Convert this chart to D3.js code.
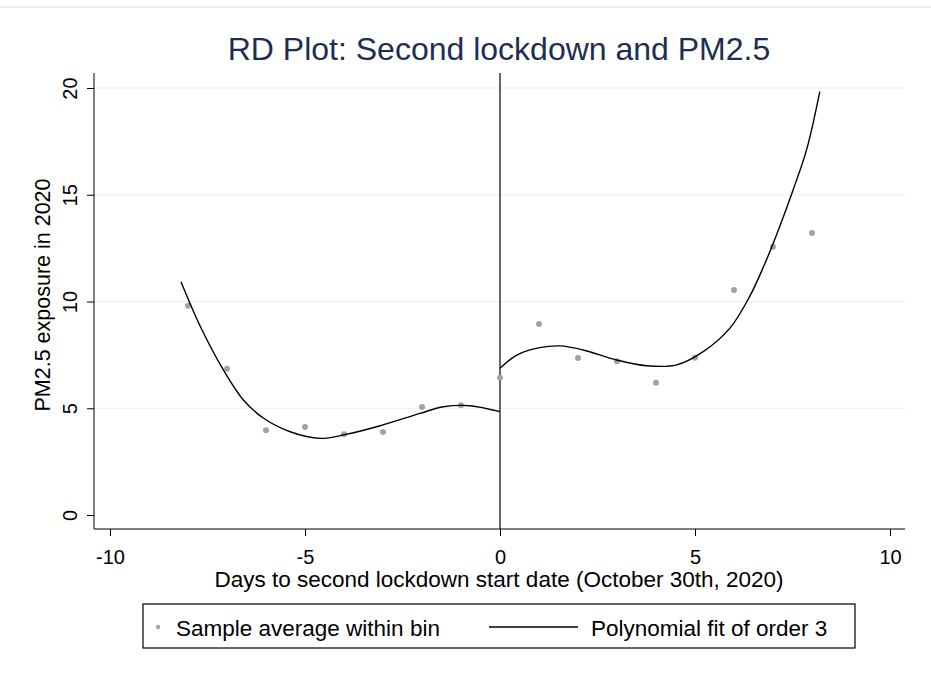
<!DOCTYPE html>
<html>
<head>
<meta charset="utf-8">
<script src="https://cdn.jsdelivr.net/npm/d3@7"></script>
<style>
  body { margin: 0; background: #fff; }
  text { font-family: "Liberation Sans", Arial, sans-serif; }
</style>
</head>
<body>
<svg id="chart" width="931" height="677"></svg>
<script>
// bin averages
var binDays = [-8, -7, -6, -5, -4, -3, -2, -1, 0, 1, 2, 3, 4, 5, 6, 7, 8];
var binMeans = [9.8, 6.85, 3.97, 4.12, 3.78, 3.89, 5.06, 5.14, 6.43, 8.95, 7.35, 7.2, 6.2, 7.37, 10.54, 12.57, 13.21];

// fitted curve, left of cutoff
var leftFitX = [-8.18, -7.68, -7.09, -6.58, -6.06, -5.38, -4.61, -4.01, -3.07, -2.05, -1.45, -0.77, 0];
var leftFitY = [10.93, 8.82, 6.79, 5.39, 4.53, 3.90, 3.59, 3.75, 4.18, 4.76, 5.07, 5.12, 4.84];
// fitted curve, right of cutoff
var rightFitX = [0, 0.43, 1.02, 1.54, 2.13, 2.99, 3.76, 4.53, 5.21, 5.89, 6.40, 6.83, 7.17, 7.51, 7.86, 8.2];
var rightFitY = [6.87, 7.49, 7.84, 7.92, 7.73, 7.26, 6.99, 7.03, 7.65, 8.74, 10.23, 11.94, 13.5, 15.2, 17.1, 19.83];

var xTicks = [-10, -5, 0, 5, 10];
var yTicks = [0, 5, 10, 15, 20];

var svg = d3.select("#chart");

var x = d3.scaleLinear().domain([-10, 10]).range([110, 890]);
var y = d3.scaleLinear().domain([0, 20]).range([515, 88]);

var plotLeft = 94, plotRight = 905, plotTop = 73, plotBottom = 529;

// stata-style minus is a plain hyphen
var fmt = function(d){ return String(d) };

// faint top border line
svg.append("line")
    .attr("x1", 0).attr("x2", 931)
    .attr("y1", 7).attr("y2", 7)
    .style("stroke", "#e6eef0")
    .style("stroke-width", 1.5);

// gridlines
svg.selectAll(".grid")
    .data(yTicks.filter(function(d){ return d > 0 }))
    .enter()
    .append("line")
    .attr("x1", plotLeft).attr("x2", plotRight)
    .attr("y1", function(d){ return y(d) })
    .attr("y2", function(d){ return y(d) })
    .style("stroke", "#eaf2f3")
    .style("stroke-width", 1.2);

// y axis
var yAxis = svg.append("g")
    .attr("transform", "translate(" + plotLeft + ",0)")
    .call(d3.axisLeft(y).tickValues(yTicks).tickFormat(fmt).tickSize(7).tickSizeOuter(0));
yAxis.select(".domain").remove();
yAxis.append("line")
    .attr("x1", 0).attr("x2", 0)
    .attr("y1", plotTop).attr("y2", plotBottom)
    .style("stroke", "#000");
yAxis.selectAll(".tick line").style("stroke", "#000");
yAxis.selectAll(".tick text")
    .attr("x", null).attr("dy", null)
    .attr("transform", "translate(-17,0) rotate(-90)")
    .attr("text-anchor", "middle")
    .style("font-size", "20px")
    .style("fill", "#000");

// x axis
var xAxis = svg.append("g")
    .attr("transform", "translate(0," + plotBottom + ")")
    .call(d3.axisBottom(x).tickValues(xTicks).tickFormat(fmt).tickSize(7).tickSizeOuter(0));
xAxis.select(".domain").remove();
xAxis.append("line")
    .attr("x1", plotLeft).attr("x2", plotRight)
    .attr("y1", 0).attr("y2", 0)
    .style("stroke", "#000");
xAxis.selectAll(".tick line").style("stroke", "#000");
xAxis.selectAll(".tick text")
    .attr("y", 35).attr("dy", null)
    .style("font-size", "20px")
    .style("fill", "#000");

// cutoff line
svg.append("line")
    .attr("x1", x(0)).attr("x2", x(0))
    .attr("y1", plotTop).attr("y2", plotBottom)
    .style("stroke", "#000")
    .style("stroke-width", 1.2);

// bin points
svg.selectAll(".bin")
    .data(binDays)
    .enter()
    .append("circle")
    .attr("cx", function(d){ return x(d) })
    .attr("cy", function(d,i){ return y(binMeans[i]) })
    .attr("r", 3)
    .style("fill", "#a3a3a3");

// fitted lines
var fitLine = d3.line()
    .x(function(d){ return x(d[0]) })
    .y(function(d){ return y(d[1]) })
    .curve(d3.curveCatmullRom);

svg.append("path")
    .datum(d3.zip(leftFitX, leftFitY))
    .attr("d", fitLine)
    .style("fill", "none")
    .style("stroke", "#000")
    .style("stroke-width", 1.4);

svg.append("path")
    .datum(d3.zip(rightFitX, rightFitY))
    .attr("d", fitLine)
    .style("fill", "none")
    .style("stroke", "#000")
    .style("stroke-width", 1.4);

// title
svg.append("text")
    .attr("x", 499).attr("y", 60)
    .attr("text-anchor", "middle")
    .style("font-size", "32px")
    .style("fill", "#1e2d53")
    .text("RD Plot: Second lockdown and PM2.5");

// axis titles
svg.append("text")
    .attr("x", 499).attr("y", 587)
    .attr("text-anchor", "middle")
    .style("font-size", "22.5px")
    .text("Days to second lockdown start date (October 30th, 2020)");

svg.append("text")
    .attr("transform", "translate(50,295) rotate(-90)")
    .attr("text-anchor", "middle")
    .style("font-size", "21.5px")
    .text("PM2.5 exposure in 2020");

// legend
var legend = svg.append("g");
legend.append("rect")
    .attr("x", 143).attr("y", 604)
    .attr("width", 712).attr("height", 44)
    .style("fill", "#fff")
    .style("stroke", "#000")
    .style("stroke-width", 1.2);
legend.append("circle")
    .attr("cx", 158).attr("cy", 627)
    .attr("r", 2.2)
    .style("fill", "#a3a3a3");
legend.append("text")
    .attr("x", 176).attr("y", 636)
    .style("font-size", "22.5px")
    .text("Sample average within bin");
legend.append("line")
    .attr("x1", 489).attr("x2", 578)
    .attr("y1", 627).attr("y2", 627)
    .style("stroke", "#000")
    .style("stroke-width", 1.4);
legend.append("text")
    .attr("x", 591).attr("y", 636)
    .style("font-size", "22.5px")
    .text("Polynomial fit of order 3");
</script>
</body>
</html>
